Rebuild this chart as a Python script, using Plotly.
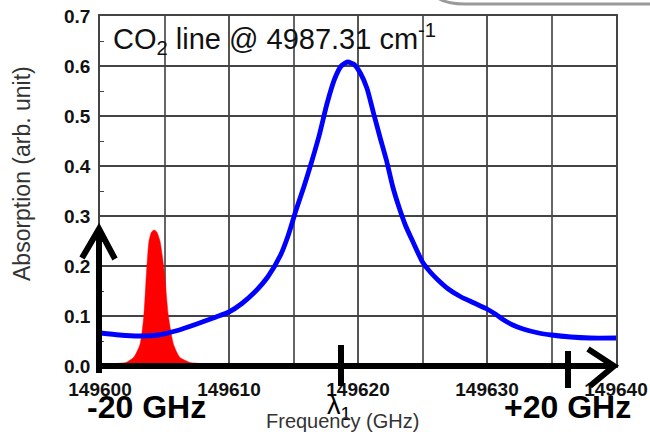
import plotly.graph_objects as go

# ---- data ----
blue_freq = [149600, 149601.5, 149603, 149604.5, 149606, 149607.5, 149609, 149610,
             149611, 149612, 149613, 149614, 149614.6, 149615.2, 149615.8, 149616.4,
             149617, 149617.6, 149618.2, 149618.7, 149619.2, 149619.7, 149620.2, 149620.7,
             149621.2, 149621.7, 149622.2, 149622.7, 149623.2, 149623.7, 149624.3, 149625,
             149625.6, 149626.2, 149627, 149628, 149629, 149630, 149630.7, 149631.3,
             149632, 149632.8, 149634, 149635, 149636.5, 149638, 149640]
blue_abs = [0.066, 0.062, 0.060, 0.062, 0.071, 0.084, 0.098, 0.108,
            0.125, 0.148, 0.178, 0.222, 0.262, 0.312, 0.358, 0.408,
            0.462, 0.525, 0.575, 0.600, 0.608, 0.603, 0.585, 0.555,
            0.506, 0.458, 0.412, 0.358, 0.316, 0.280, 0.246, 0.208,
            0.188, 0.172, 0.154, 0.138, 0.126, 0.114, 0.103, 0.092,
            0.082, 0.074, 0.066, 0.062, 0.058, 0.056, 0.056]

red_freq = [149600.9, 149601.0, 149602.0, 149602.6, 149603.1, 149603.4, 149603.6, 149603.8,
            149604.0, 149604.2, 149604.4, 149604.65, 149605.0, 149605.3, 149605.7, 149606.2,
            149607.0, 149608.0, 149608.1]
red_abs = [0.0, 0.004, 0.007, 0.017, 0.043, 0.10, 0.185, 0.25,
           0.268, 0.272, 0.268, 0.25, 0.185, 0.10, 0.043, 0.017,
           0.007, 0.004, 0.0]

x_ticks = [149600, 149610, 149620, 149630, 149640]
y_ticks = [0.0, 0.1, 0.2, 0.3, 0.4, 0.5, 0.6, 0.7]

FONT = "Liberation Sans, Arial, sans-serif"
W, H = 650, 435
ML, MR, MT, MB = 100, 34, 16, 69
PW, PH = W - ML - MR, H - MT - MB


def px(x):
    return (x - ML) / PW


def py(y):
    return (H - MB - y) / PH


fig = go.Figure()
fig.add_trace(go.Scatter(x=red_freq, y=red_abs, mode="lines", fill="tozeroy",
                         fillcolor="#ff0000", line=dict(color="#ff0000", width=0.5,
                                                         shape="spline", smoothing=0.6),
                         hoverinfo="skip", showlegend=False))
fig.add_trace(go.Scatter(x=blue_freq, y=blue_abs, mode="lines",
                         line=dict(color="#0000ff", width=4.8, shape="spline", smoothing=0.6),
                         showlegend=False))

shapes = []


def seg(pts, w=6, color="black"):
    d = "M " + " L ".join(f"{px(a):.5f},{py(b):.5f}" for a, b in pts)
    shapes.append(dict(type="path", path=d, xref="paper", yref="paper",
                       line=dict(color=color, width=w), layer="above"))


# vertical arrow
seg([(99, 373), (99, 229)])
seg([(82, 258), (99, 229), (115, 259)])
# horizontal arrow
seg([(96, 366), (614, 366)])
seg([(588, 349), (614, 366), (590, 386)])
# ticks
seg([(341, 345), (341, 386)])
seg([(568, 351), (568, 388)])
# top-right decorative edge
shapes.append(dict(type="path",
                   path=f"M {px(438):.5f},{py(-2):.5f} Q {px(446):.5f},{py(4):.5f} {px(465):.5f},{py(4):.5f} L {px(652):.5f},{py(4):.5f}",
                   xref="paper", yref="paper", line=dict(color="#9a9a9a", width=3)))

annotations = [
    dict(text="CO<sub>2</sub> line @ 4987.31 cm<sup>-1</sup>", x=px(111), y=py(39),
         xref="paper", yref="paper", xanchor="left", yanchor="middle", showarrow=False,
         font=dict(family=FONT, size=29, color="#111")),
    dict(text="<b>-20 GHz</b>", x=px(146), y=py(407), xref="paper", yref="paper",
         xanchor="center", yanchor="middle", showarrow=False,
         font=dict(family=FONT, size=32, color="black")),
    dict(text="<b>+20 GHz</b>", x=px(567), y=py(407), xref="paper", yref="paper",
         xanchor="center", yanchor="middle", showarrow=False,
         font=dict(family=FONT, size=32, color="black")),
    dict(text="λ<sub>1</sub>", x=px(325), y=py(407), xref="paper", yref="paper",
         xanchor="left", yanchor="middle", showarrow=False,
         font=dict(family=FONT, size=27, color="black")),
    dict(text="Frequency (GHz)", x=px(342), y=py(421), xref="paper", yref="paper",
         xanchor="center", yanchor="middle", showarrow=False,
         font=dict(family=FONT, size=20, color="#333")),
    dict(text="Absorption (arb. unit)", x=px(22), y=py(174), xref="paper", yref="paper",
         xanchor="center", yanchor="middle", showarrow=False, textangle=-90,
         font=dict(family=FONT, size=23, color="#333")),
]

fig.update_layout(
    width=W, height=H, margin=dict(l=ML, r=MR, t=MT, b=MB, autoexpand=False),
    paper_bgcolor="white", plot_bgcolor="white",
    shapes=shapes, annotations=annotations,
    font=dict(family=FONT),
    xaxis=dict(range=[149600, 149640], tickvals=x_ticks, ticktext=[str(v) for v in x_ticks],
               showgrid=True, gridcolor="#555", gridwidth=1.5, automargin=False,
               minor=dict(dtick=5, showgrid=True, gridcolor="#666", gridwidth=1.5),
               showline=True, mirror=True, linecolor="#444", linewidth=1.5,
               ticks="", zeroline=False, ticklabelstandoff=5,
               tickfont=dict(family=FONT, size=19, color="#111", weight="bold")),
    yaxis=dict(range=[0, 0.7], tickvals=y_ticks, ticktext=[f"{v:.1f}" for v in y_ticks],
               showgrid=True, gridcolor="#444", gridwidth=1.5, automargin=False,
               minor=dict(dtick=0.05, ticks="inside", ticklen=4, tickcolor="#444", showgrid=False),
               ticks="inside", ticklen=4, tickcolor="#444",
               showline=True, mirror=True, linecolor="#444", linewidth=1.5,
               zeroline=False, ticklabelstandoff=4,
               tickfont=dict(family=FONT, size=19, color="#111", weight="bold")),
)

fig.write_html("out.html")
